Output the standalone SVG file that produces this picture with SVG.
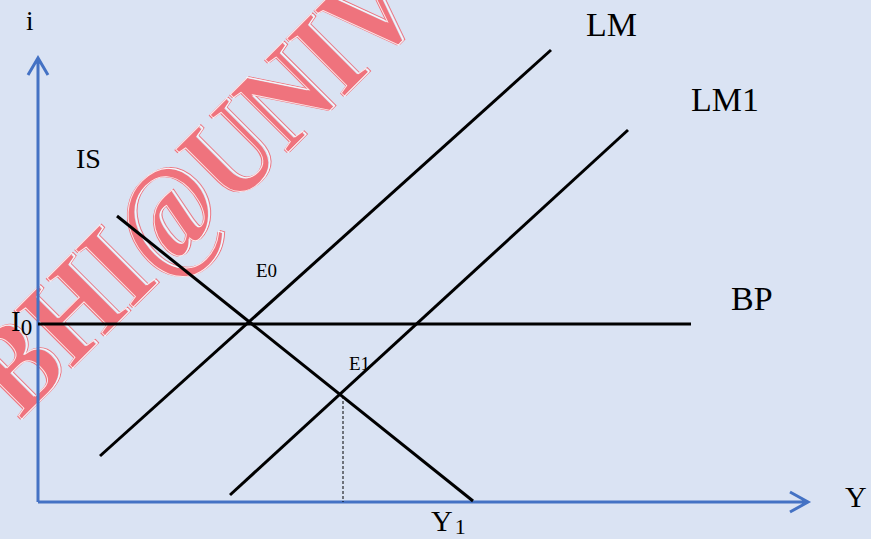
<svg xmlns="http://www.w3.org/2000/svg" width="871" height="539" viewBox="0 0 871 539">
<style>
.lbl{font-family:"Liberation Serif","Times New Roman",serif;fill:#000}
.crv{stroke:#000;stroke-width:3;fill:none}
.ax{stroke:#4472C4;stroke-width:3;fill:none}
.wm{font-family:"Liberation Serif","Times New Roman",serif;font-weight:bold;font-size:125px}
</style>
<rect width="871" height="539" fill="#DAE3F3"/>
<g id="watermark" transform="translate(19,421) rotate(-45)">
<text class="wm" x="3" y="1" fill="none" stroke="#EF737D" stroke-width="1" textLength="575" lengthAdjust="spacingAndGlyphs">BHI@UNIV</text>
<text class="wm" x="0" y="0" fill="#EF737D" textLength="575" lengthAdjust="spacingAndGlyphs">BHI@UNIV</text>
<text class="wm" x="1.5" y="0.5" fill="none" stroke="#FFFFFF" stroke-width="1" opacity="0.85" textLength="575" lengthAdjust="spacingAndGlyphs">BHI@UNIV</text>
</g>
<g id="connectors">
<path class="ax" d="M38,502 V58 M28,75 L38,58 L48,75"/>
<path class="ax" d="M38,502 H808 M790,492 L808,502 L790,512"/>
<line class="crv" x1="38" y1="324" x2="691" y2="324"/>
<line class="crv" x1="100" y1="456" x2="551" y2="50"/>
<line class="crv" x1="230" y1="495" x2="628" y2="130"/>
<line class="crv" x1="117" y1="216" x2="473" y2="501"/>
<line x1="343" y1="396" x2="343" y2="502" stroke="#000" stroke-width="1" stroke-dasharray="3,2"/>
</g>
<g id="labels">
<text class="lbl" x="26" y="30" font-size="27">i</text>
<text class="lbl" x="586" y="36" font-size="34">LM</text>
<text class="lbl" x="691" y="111" font-size="34">LM1</text>
<text class="lbl" x="76" y="168" font-size="28">IS</text>
<text class="lbl" x="256" y="277" font-size="19" fill="#222">E0</text>
<text class="lbl" x="349" y="370" font-size="19" fill="#222">E1</text>
<text class="lbl" x="731" y="310" font-size="34">BP</text>
<text class="lbl" x="11" y="331" font-size="29">I<tspan font-size="23" dy="4">0</tspan></text>
<text class="lbl" x="431" y="531" font-size="30">Y<tspan font-size="22" dy="3" dx="2">1</tspan></text>
<text class="lbl" x="845" y="507" font-size="30">Y</text>
</g>
</svg>
